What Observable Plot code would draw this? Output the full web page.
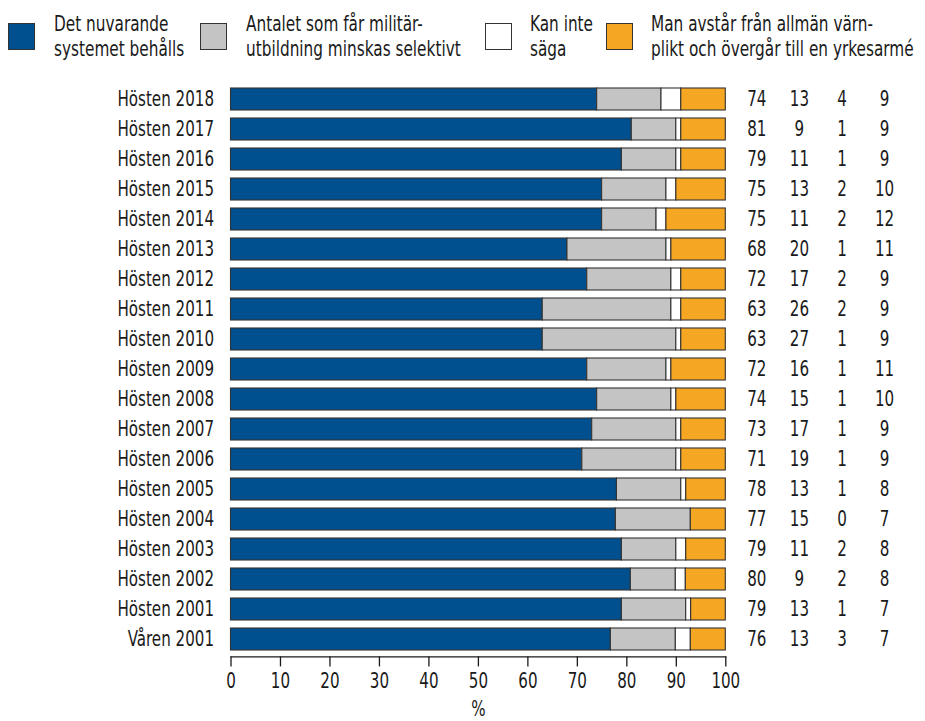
<!DOCTYPE html>
<html>
<head>
<meta charset="utf-8">
<script src="https://cdn.jsdelivr.net/npm/d3@7"></script>
<script src="https://cdn.jsdelivr.net/npm/@observablehq/plot@0.6"></script>
<style>
  html, body { margin: 0; padding: 0; background: #fff; }
  body { width: 925px; height: 721px; overflow: hidden;
         font-family: 'Liberation Sans Narrow', 'Arial Narrow', 'DejaVu Sans Condensed', sans-serif;
         color: #1a1a1a; }
  #legend { position: relative; width: 925px; height: 75px; }
  .sw { position: absolute; top: 23px; width: 27px; height: 27px; box-sizing: border-box; border: 1.2px solid #333; }
  .lt { position: absolute; top: 12px; font-size: 21px; line-height: 25px; white-space: nowrap;
        transform: scaleX(0.81); transform-origin: 0 0; }
  #chart svg { display: block; }
</style>
</head>
<body>
<div id="legend"></div>
<div id="chart"></div>
<script>
const periods = ["Hösten 2018","Hösten 2017","Hösten 2016","Hösten 2015","Hösten 2014","Hösten 2013",
  "Hösten 2012","Hösten 2011","Hösten 2010","Hösten 2009","Hösten 2008","Hösten 2007","Hösten 2006",
  "Hösten 2005","Hösten 2004","Hösten 2003","Hösten 2002","Hösten 2001","Våren 2001"];
const systemet  = [74,81,79,75,75,68,72,63,63,72,74,73,71,78,77,79,80,79,76];
const selektiv  = [13, 9,11,13,11,20,17,26,27,16,15,17,19,13,15,11, 9,13,13];
const kanInte   = [ 4, 1, 1, 2, 2, 1, 2, 2, 1, 1, 1, 1, 1, 1, 0, 2, 2, 1, 3];
const yrkesarme = [ 9, 9, 9,10,12,11, 9, 9, 9,11,10, 9, 9, 8, 7, 8, 8, 7, 7];

const categories = ["Det nuvarande systemet behålls",
  "Antalet som får militärutbildning minskas selektivt",
  "Kan inte säga",
  "Man avstår från allmän värnplikt och övergår till en yrkesarmé"];
const legendLines = [["Det nuvarande","systemet behålls"],["Antalet som får militär-","utbildning minskas selektivt"],
  ["Kan inte","säga"],["Man avstår från allmän värn-","plikt och övergår till en yrkesarmé"]];
const colors = ["#00508f","#c4c4c4","#ffffff","#f5a623"];
const series = [systemet, selektiv, kanInte, yrkesarme];
const xTicks = [0,10,20,30,40,50,60,70,80,90,100];

// legend
const legendPos = [[8,54],[200,246],[485,530],[606,651]];
const legend = document.getElementById("legend");
categories.forEach((c, i) => {
  const sw = document.createElement("div");
  sw.className = "sw"; sw.style.left = legendPos[i][0] + "px"; sw.style.background = colors[i];
  legend.appendChild(sw);
  const t = document.createElement("div");
  t.className = "lt"; t.style.left = legendPos[i][1] + "px";
  t.innerHTML = legendLines[i].join("<br>");
  legend.appendChild(t);
});

// long data, normalized to 100 % per row
const long = [];
periods.forEach((p, j) => {
  const sum = series.reduce((s, a) => s + a[j], 0);
  series.forEach((a, i) => long.push({period: p, cat: categories[i], value: a[j] / sum * 100}));
});
const rows = periods.map((p, j) => ({period: p, v: series.map(a => a[j])}));

const font = "'Liberation Sans Narrow', 'Arial Narrow', 'DejaVu Sans Condensed', sans-serif";
const colDx = [31, 73.6, 116.2, 158.8];

const chart = Plot.plot({
  width: 925,
  height: 646,
  marginLeft: 230.5,
  marginRight: 199.7,
  marginTop: 6.8,
  marginBottom: 64.6,
  style: {fontFamily: font, fontSize: "21px", color: "#1a1a1a", background: "#fff", overflow: "visible"},
  x: {domain: [0, 100]},
  y: {domain: periods, paddingInner: 0.28, paddingOuter: 0.14},
  color: {domain: categories, range: colors},
  marks: [
    Plot.barX(long, {x: "value", y: "period", fill: "cat", order: categories,
      stroke: "#333", strokeWidth: 1.1, inset: 0}),
    ...colDx.map((dx, i) => Plot.text(rows, {y: "period", text: d => String(d.v[i]),
      frameAnchor: "right", dx, textAnchor: "middle", fill: "#1a1a1a", fontSize: 21})),
    Plot.frame({anchor: "bottom", stroke: "#1a1a1a", strokeWidth: 1.3}),
    Plot.axisY({tickSize: 0, tickPadding: 17, label: null, fontSize: 21}),
    Plot.axisX({ticks: xTicks, tickSize: 10, tickPadding: 6, label: "%", labelAnchor: "center",
      labelArrow: "none", labelOffset: 59, fontSize: 21, strokeWidth: 1.3})
  ]
});
document.getElementById("chart").appendChild(chart);

// condense glyphs to mimic the narrow typeface of the original
chart.querySelectorAll("text").forEach(t => {
  const parts = t.querySelectorAll("tspan");
  const targets = parts.length ? Array.from(parts) : [t];
  targets.forEach(el => {
    const L = el.getComputedTextLength();
    if (L > 0) {
      el.setAttribute("textLength", (L * 0.8).toFixed(2));
      el.setAttribute("lengthAdjust", "spacingAndGlyphs");
    }
  });
});
</script>
</body>
</html>
